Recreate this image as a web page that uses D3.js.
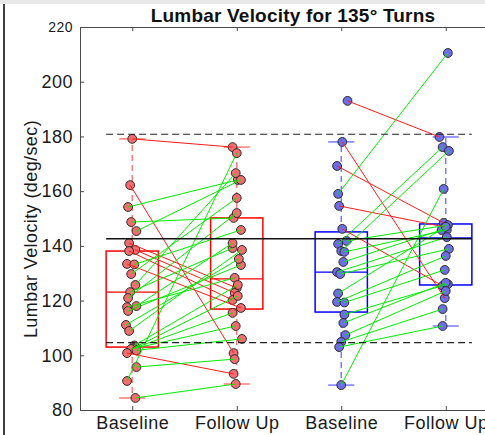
<!DOCTYPE html>
<html>
<head>
<meta charset="utf-8">
<script src="https://cdn.jsdelivr.net/npm/d3@7"></script>
<style>
  body { margin: 0; background: #fff; }
  text { font-family: "Liberation Sans", Arial, sans-serif; }
</style>
</head>
<body>
<div id="chart"></div>
<script>
// Column labels and positions
const categories = ["Baseline", "Follow Up", "Baseline", "Follow Up"];
const yTicks = [80, 100, 120, 140, 160, 180, 200, 220];

// Group 1 (red): paired values, same index = same subject
const base1 = [179.1, 162.2, 154.2, 148.7, 145.4, 141.0, 138.5, 138.1, 133.4, 133.2, 129.7, 125.7, 123.1, 120.9,
               118.0, 117.6, 116.2, 111.1, 108.9, 103.6, 103.0, 102.5, 102.3, 101.8, 100.8, 95.7, 90.6, 84.4];
const follow1 = [176.1, 100.8, 164.1, 150.2, 164.1, 124.6, 122.8, 120.2, 117.3, 145.8, 157.5, 166.6, 139.2, 152.0,
                 141.0, 128.3, 133.0, 135.2, 138.5, 125.7, 121.7, 115.5, 110.7, 106.0, 93.2, 98.6, 173.9, 89.5];
const base1Jitter = [0, -0.02, -0.04, -0.01, 0.04, -0.03, 0.03, -0.03, -0.05, 0.02, -0.01, 0.03, -0.02, -0.04,
                     0.04, -0.05, -0.04, -0.06, -0.03, 0.02, 0.03, 0.01, -0.01, 0.04, -0.05, 0.04, -0.05, 0.03];
const follow1Jitter = [-0.04, -0.03, 0.01, -0.03, 0.04, 0, -0.02, -0.04, 0.04, 0.04, 0, -0.01, -0.04, 0,
                       -0.04, -0.02, 0.04, 0.02, 0.05, 0.01, 0.01, -0.04, -0.01, 0.05, -0.03, -0.02, 0, -0.01];

// Group 2 (blue)
const base2 = [193.0, 178.0, 169.2, 159.0, 154.6, 146.2, 141.8, 140.7, 138.1, 137.8, 134.1,
               130.4, 129.7, 122.6, 119.5, 119.3, 114.9, 111.8, 107.4, 104.9, 103.0, 89.1];
const follow2 = [179.8, 120.9, 148.4, 210.5, 146.9, 125.4, 147.6, 176.1, 174.7, 145.8, 145.8,
                 143.2, 138.9, 147.0, 136.3, 131.2, 126.0, 126.5, 123.5, 116.9, 110.7, 160.8];
const base2Jitter = [0.06, 0.01, -0.04, -0.03, -0.02, 0.01, 0.05, -0.03, 0, 0.03, 0.02,
                     -0.04, -0.01, -0.03, -0.04, 0.03, 0.03, 0.02, 0.04, 0, -0.02, 0];
const follow2Jitter = [-0.06, -0.01, -0.02, 0.02, -0.01, -0.03, 0.02, -0.03, 0.03, 0.01, -0.04,
                       0.01, 0.03, 0, 0, -0.01, 0.02, 0, 0, -0.03, -0.03, -0.02];

// Box plot stats per column
const q1 = [103.0, 116.9, 115.8, 125.7];
const median = [123.1, 127.9, 130.4, 142.9];
const q3 = [138.1, 150.2, 145.1, 148.0];
const whiskerLo = [84.4, 89.5, 89.1, 110.7];
const whiskerHi = [179.1, 176.1, 178.0, 179.8];

// Reference lines
const meanLine = 142.6;
const limitLines = [180.8, 104.6];

const W = 485, H = 435;
const margin = { top: 27, left: 80, bottom: 25 };

const svg = d3.select("#chart").append("svg")
    .attr("width", W)
    .attr("height", H);

const x = d3.scaleLinear().domain([0.5, 4.5]).range([margin.left, 498]);
const y = d3.scaleLinear().domain([80, 220]).range([H - margin.bottom, margin.top]);

// window frame bits
svg.append("rect").attr("x", 0).attr("y", 0).attr("width", W).attr("height", 4).attr("fill", "#e8e8e8");
svg.append("line").attr("x1", 4).attr("x2", 4).attr("y1", 4).attr("y2", H)
    .attr("stroke", "#000").attr("stroke-width", 1.5);

// axes
const axisColor = "#4a4a4a";
const gx = svg.append("g").attr("transform", `translate(0,${y(80)})`)
    .call(d3.axisBottom(x).tickValues([1, 2, 3, 4]).tickFormat(d => categories[d - 1]).tickSizeInner(-4).tickSizeOuter(0));
const gxTop = svg.append("g").attr("transform", `translate(0,${y(220)})`)
    .call(d3.axisTop(x).tickValues([1, 2, 3, 4]).tickFormat("").tickSizeInner(-4).tickSizeOuter(0));
const gy = svg.append("g").attr("transform", `translate(${x(0.5)},0)`)
    .call(d3.axisLeft(y).tickValues(yTicks).tickSizeInner(-4).tickSizeOuter(0));

[gx, gxTop, gy].forEach(g => {
    g.select(".domain").attr("stroke", axisColor);
    g.selectAll(".tick line").attr("stroke", axisColor);
});
gx.selectAll("text").attr("font-size", 18).attr("letter-spacing", "0.5px").attr("fill", "#1a1a1a").attr("dy", "0.9em")
    .attr("font-family", "Liberation Sans, Arial, sans-serif");
gy.selectAll("text").attr("font-size", d => d === 220 ? 14 : 18).attr("letter-spacing", "0.5px").attr("fill", "#1a1a1a")
    .attr("x", -7).attr("font-family", "Liberation Sans, Arial, sans-serif");

// title and y label
svg.append("text")
    .attr("x", 293).attr("y", 22)
    .attr("text-anchor", "middle")
    .attr("font-size", 19).attr("font-weight", "bold").attr("fill", "#111")
    .attr("letter-spacing", "0.2px")
    .text("Lumbar Velocity for 135° Turns");

svg.append("text")
    .attr("transform", `translate(37,229) rotate(-90)`)
    .attr("text-anchor", "middle")
    .attr("font-size", 18).attr("letter-spacing", "0.4px").attr("fill", "#1a1a1a")
    .text("Lumbar Velocity (deg/sec)");

// box plots
const boxColor = ["#ff0000", "#ff0000", "#0000ff", "#0000ff"];
const whiskColor = ["#ff7a7a", "#ff7a7a", "#7a7aff", "#7a7aff"];
const boxes = svg.append("g");
categories.forEach((c, i) => {
    const cx = i + 1;
    // whiskers
    boxes.append("line").attr("x1", x(cx)).attr("x2", x(cx)).attr("y1", y(q3[i])).attr("y2", y(whiskerHi[i]))
        .attr("stroke", whiskColor[i]).attr("stroke-width", 1.5).attr("stroke-dasharray", "6,4");
    boxes.append("line").attr("x1", x(cx)).attr("x2", x(cx)).attr("y1", y(q1[i])).attr("y2", y(whiskerLo[i]))
        .attr("stroke", whiskColor[i]).attr("stroke-width", 1.5).attr("stroke-dasharray", "6,4");
    [whiskerLo[i], whiskerHi[i]].forEach(v => {
        boxes.append("line").attr("x1", x(cx - 0.125)).attr("x2", x(cx + 0.125)).attr("y1", y(v)).attr("y2", y(v))
            .attr("stroke", whiskColor[i]).attr("stroke-width", 1.5);
    });
    boxes.append("rect")
        .attr("x", x(cx - 0.25)).attr("width", x(cx + 0.25) - x(cx - 0.25))
        .attr("y", y(q3[i])).attr("height", y(q1[i]) - y(q3[i]))
        .attr("fill", "none").attr("stroke", boxColor[i]).attr("stroke-width", 1.5);
    boxes.append("line").attr("x1", x(cx - 0.25)).attr("x2", x(cx + 0.25)).attr("y1", y(median[i])).attr("y2", y(median[i]))
        .attr("stroke", boxColor[i]).attr("stroke-width", 1.2);
});

// points
function drawPoints(vals, jit, pos, fill) {
    svg.append("g").selectAll("circle")
        .data(vals)
        .join("circle")
        .attr("cx", (d, i) => x(pos + jit[i]))
        .attr("cy", d => y(d))
        .attr("r", 4.4)
        .attr("fill", fill)
        .attr("stroke", "#2a2a2a")
        .attr("stroke-width", 1);
}
drawPoints(base1, base1Jitter, 1, "#f26d6d");
drawPoints(follow1, follow1Jitter, 2, "#f26d6d");
drawPoints(base2, base2Jitter, 3, "#6d6de8");
drawPoints(follow2, follow2Jitter, 4, "#6d6de8");

// paired lines: green = increase, red = decrease
function drawPairs(b, f, bj, fj, pos) {
    svg.append("g").selectAll("line")
        .data(b)
        .join("line")
        .attr("x1", (d, i) => x(pos + bj[i]))
        .attr("y1", d => y(d))
        .attr("x2", (d, i) => x(pos + 1 + fj[i]))
        .attr("y2", (d, i) => y(f[i]))
        .attr("stroke", (d, i) => f[i] >= d ? "#00ee00" : "#ff1a1a")
        .attr("stroke-width", 1);
}
drawPairs(base1, follow1, base1Jitter, follow1Jitter, 1);
drawPairs(base2, follow2, base2Jitter, follow2Jitter, 3);

// reference lines
svg.append("line")
    .attr("x1", x(0.75)).attr("x2", x(4.25)).attr("y1", y(meanLine)).attr("y2", y(meanLine))
    .attr("stroke", "#111").attr("stroke-width", 1.3);
svg.selectAll(".limit")
    .data(limitLines)
    .join("line")
    .attr("class", "limit")
    .attr("x1", x(0.75)).attr("x2", x(4.25))
    .attr("y1", d => y(d)).attr("y2", d => y(d))
    .attr("stroke", "#222").attr("stroke-width", 1.2).attr("stroke-dasharray", "7,4");
</script>
</body>
</html>
